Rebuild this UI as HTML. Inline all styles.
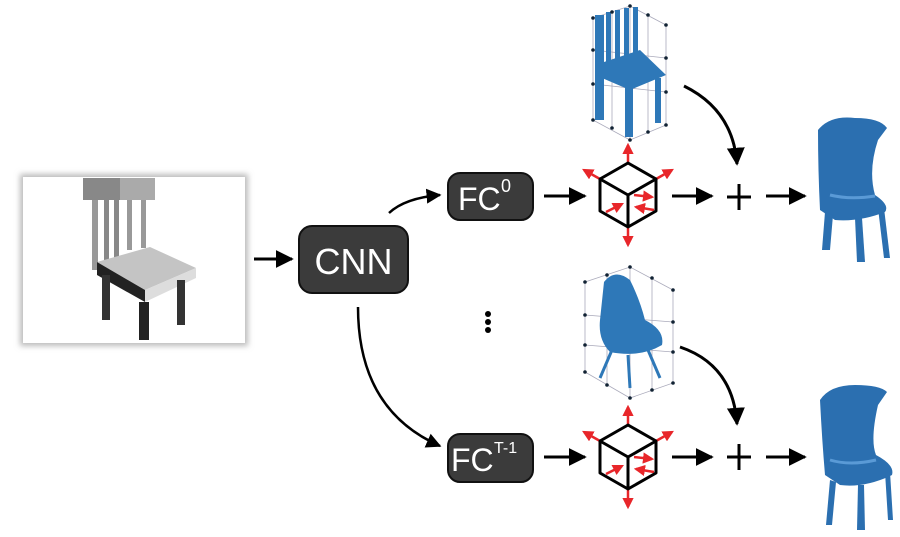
<!DOCTYPE html>
<html><head><meta charset="utf-8"><style>
html,body{margin:0;padding:0;background:#fff;}
svg{display:block;}
text{font-family:"Liberation Sans",sans-serif;}
</style></head><body>
<svg width="900" height="537" viewBox="0 0 900 537" xmlns="http://www.w3.org/2000/svg">
<defs>
<marker id="ah" viewBox="0 0 10 10" refX="9" refY="5" markerWidth="6" markerHeight="6" orient="auto" markerUnits="strokeWidth"><path d="M0,0 L10,5 L0,10 z" fill="#000"/></marker>
<marker id="rh" viewBox="0 0 10 10" refX="8" refY="5" markerWidth="4.5" markerHeight="4.5" orient="auto" markerUnits="strokeWidth"><path d="M0,0 L10,5 L0,10 z" fill="#e8262a"/></marker>
<filter id="sh" x="-10%" y="-10%" width="120%" height="120%"><feGaussianBlur stdDeviation="3"/></filter>
<g id="cube">
 <g stroke="#e8262a" stroke-width="2.5" fill="none" marker-end="url(#rh)">
  <line x1="0" y1="-32" x2="0" y2="-50"/>
  <line x1="0" y1="32" x2="0" y2="50"/>
  <line x1="-28" y1="-16" x2="-44" y2="-25"/>
  <line x1="28" y1="-16" x2="44" y2="-25"/>
  <line x1="6" y1="0" x2="24" y2="2"/>
  <line x1="-22" y1="17" x2="-6" y2="9"/>
  <line x1="26" y1="15" x2="8" y2="12"/>
 </g>
 <g stroke="#000" stroke-width="3" fill="none" stroke-linejoin="round">
  <polygon points="0,-32 28,-16 28,16 0,32 -28,16 -28,-16"/>
  <polyline points="-28,-16 0,0 28,-16"/>
  <line x1="0" y1="0" x2="0" y2="32"/>
 </g>
</g>
<g id="plus" stroke="#000" stroke-width="3"><line x1="-12" y1="0" x2="12" y2="0"/><line x1="0" y1="-13" x2="0" y2="13"/></g>
</defs>

<!-- input image -->
<rect x="20" y="174" width="228" height="172" fill="#bbb" filter="url(#sh)"/>
<rect x="23" y="177" width="222" height="166" fill="#fff"/>
<g>
 <polygon points="83,178 155,178 155,200 83,200" fill="#888"/>
 <polygon points="120,178 155,178 155,200 120,200" fill="#aaa"/>
 <rect x="92" y="200" width="6" height="70" fill="#999"/>
 <rect x="104" y="200" width="5" height="62" fill="#888"/>
 <rect x="114" y="200" width="5" height="58" fill="#888"/>
 <rect x="127" y="200" width="5" height="50" fill="#999"/>
 <rect x="141" y="200" width="5" height="48" fill="#999"/>
 <polygon points="97,262 150,247 196,268 145,290" fill="#c4c4c4"/>
 <polygon points="97,262 145,290 145,302 97,275" fill="#222"/>
 <polygon points="145,290 196,268 196,278 145,302" fill="#ddd"/>
 <rect x="102" y="275" width="8" height="45" fill="#333"/>
 <rect x="139" y="302" width="10" height="38" fill="#222"/>
 <rect x="177" y="280" width="8" height="45" fill="#333"/>
</g>

<line x1="254" y1="259" x2="292" y2="259" stroke="#000" stroke-width="3" marker-end="url(#ah)"/>

<rect x="299" y="226" width="109" height="67" rx="13" fill="#3b3b3b" stroke="#111" stroke-width="2"/>
<text x="353.5" y="274" font-size="36" fill="#fff" text-anchor="middle">CNN</text>

<rect x="448" y="173" width="85" height="47" rx="12" fill="#3b3b3b" stroke="#111" stroke-width="2"/>
<text x="458" y="210" font-size="32" fill="#fff">FC</text>
<text x="501" y="192" font-size="18" fill="#fff">0</text>

<rect x="448" y="434" width="85" height="48" rx="12" fill="#3b3b3b" stroke="#111" stroke-width="2"/>
<text x="451" y="471" font-size="32" fill="#fff">FC</text>
<text x="494" y="453" font-size="16" fill="#fff">T-1</text>

<path d="M389,213 Q405,198 440,195" stroke="#000" stroke-width="2.5" fill="none" marker-end="url(#ah)"/>
<path d="M358,307 Q358,410 440,446" stroke="#000" stroke-width="2.5" fill="none" marker-end="url(#ah)"/>

<circle cx="488" cy="314" r="3" fill="#000"/><circle cx="488" cy="322" r="3" fill="#000"/><circle cx="488" cy="330" r="3" fill="#000"/>

<line x1="544" y1="196" x2="585" y2="196" stroke="#000" stroke-width="3" marker-end="url(#ah)"/>
<line x1="544" y1="457" x2="585" y2="457" stroke="#000" stroke-width="3" marker-end="url(#ah)"/>
<use href="#cube" x="628" y="195"/>
<use href="#cube" x="628" y="457"/>
<line x1="672" y1="196" x2="712" y2="196" stroke="#000" stroke-width="3" marker-end="url(#ah)"/>
<line x1="672" y1="457" x2="712" y2="457" stroke="#000" stroke-width="3" marker-end="url(#ah)"/>
<use href="#plus" x="739" y="197"/>
<use href="#plus" x="739" y="457"/>
<line x1="766" y1="196" x2="805" y2="196" stroke="#000" stroke-width="3" marker-end="url(#ah)"/>
<line x1="766" y1="457" x2="805" y2="457" stroke="#000" stroke-width="3" marker-end="url(#ah)"/>

<path d="M684,86 Q733,110 737,164" stroke="#000" stroke-width="3" fill="none" marker-end="url(#ah)"/>
<path d="M680,347 Q733,365 737,424" stroke="#000" stroke-width="3" fill="none" marker-end="url(#ah)"/>

<!-- template 1 -->
<g stroke="#aab" stroke-width="0.8" fill="none">
 <polygon points="593,18 630,6 666,25 666,125 630,140 593,120"/>
 <line x1="593" y1="50" x2="666" y2="58"/><line x1="593" y1="84" x2="666" y2="92"/>
 <line x1="612" y1="12" x2="612" y2="128"/><line x1="630" y1="6" x2="630" y2="140"/><line x1="648" y1="15" x2="648" y2="132"/>
</g>
<g fill="#2e78b8">
 <rect x="595" y="15" width="9" height="105" />
 <rect x="606" y="12" width="5" height="55"/><rect x="615" y="10" width="5" height="55"/><rect x="624" y="8" width="5" height="55"/><rect x="633" y="7" width="5" height="55"/>
 <polygon points="595,65 640,50 666,75 630,90 595,75"/>
 <rect x="625" y="85" width="8" height="52"/><rect x="655" y="78" width="6" height="45"/>
</g>
<g fill="#123">
 <circle cx="593" cy="18" r="1.8"/><circle cx="612" cy="12" r="1.8"/><circle cx="630" cy="6" r="1.8"/><circle cx="648" cy="15" r="1.8"/><circle cx="666" cy="25" r="1.8"/>
 <circle cx="593" cy="50" r="1.8"/><circle cx="666" cy="58" r="1.8"/><circle cx="593" cy="84" r="1.8"/><circle cx="666" cy="92" r="1.8"/>
 <circle cx="593" cy="120" r="1.8"/><circle cx="630" cy="140" r="1.8"/><circle cx="666" cy="125" r="1.8"/><circle cx="612" cy="128" r="1.8"/><circle cx="648" cy="132" r="1.8"/>
</g>

<!-- template 2 -->
<g stroke="#aab" stroke-width="0.8" fill="none">
 <polygon points="585,282 630,267 673,290 673,383 630,398 585,372"/>
 <line x1="585" y1="315" x2="673" y2="322"/><line x1="585" y1="345" x2="673" y2="352"/>
 <line x1="607" y1="275" x2="607" y2="385"/><line x1="630" y1="267" x2="630" y2="398"/><line x1="652" y1="278" x2="652" y2="390"/>
</g>
<g fill="#2e78b8">
 <path d="M604,282 Q615,268 630,280 Q640,300 645,320 Q665,330 662,345 Q640,358 610,352 Q598,340 600,320 Z"/>
 <g stroke="#2e78b8" stroke-width="3"><line x1="612" y1="350" x2="600" y2="378"/><line x1="628" y1="355" x2="630" y2="388"/><line x1="648" y1="350" x2="660" y2="378"/></g>
</g>
<g fill="#123">
 <circle cx="585" cy="282" r="1.8"/><circle cx="607" cy="275" r="1.8"/><circle cx="630" cy="267" r="1.8"/><circle cx="652" cy="278" r="1.8"/><circle cx="673" cy="290" r="1.8"/>
 <circle cx="585" cy="315" r="1.8"/><circle cx="673" cy="322" r="1.8"/><circle cx="585" cy="345" r="1.8"/><circle cx="673" cy="352" r="1.8"/>
 <circle cx="585" cy="372" r="1.8"/><circle cx="630" cy="398" r="1.8"/><circle cx="673" cy="383" r="1.8"/><circle cx="607" cy="385" r="1.8"/><circle cx="652" cy="390" r="1.8"/>
</g>

<!-- output chair 1 -->
<g fill="#2b6fb0">
 <path d="M818,130 Q830,115 855,118 Q880,118 887,128 L878,140 Q868,170 875,195 Q890,205 885,212 Q860,222 835,220 L820,210 Q818,170 818,130 Z"/>
 <path d="M825,212 L822,250 L830,250 L833,215 Z"/>
 <path d="M855,218 L857,262 L865,262 L862,218 Z"/>
 <path d="M878,208 L884,258 L890,258 L884,208 Z"/>
</g>
<path d="M830,195 Q850,200 875,196" stroke="#5a9ad6" stroke-width="3" fill="none"/>
<!-- output chair 2 -->
<g fill="#2b6fb0">
 <path d="M820,400 Q830,385 855,385 Q880,385 887,392 L878,405 Q870,440 876,455 Q895,465 892,475 Q865,488 840,485 L825,475 Q822,440 820,400 Z"/>
 <path d="M830,480 L826,525 L832,525 L836,482 Z"/>
 <path d="M858,485 L857,530 L865,530 L864,485 Z"/>
 <path d="M885,472 L888,520 L893,520 L890,472 Z"/>
</g>
<path d="M830,460 Q850,466 876,460" stroke="#5a9ad6" stroke-width="3" fill="none"/>
</svg>
</body></html>
